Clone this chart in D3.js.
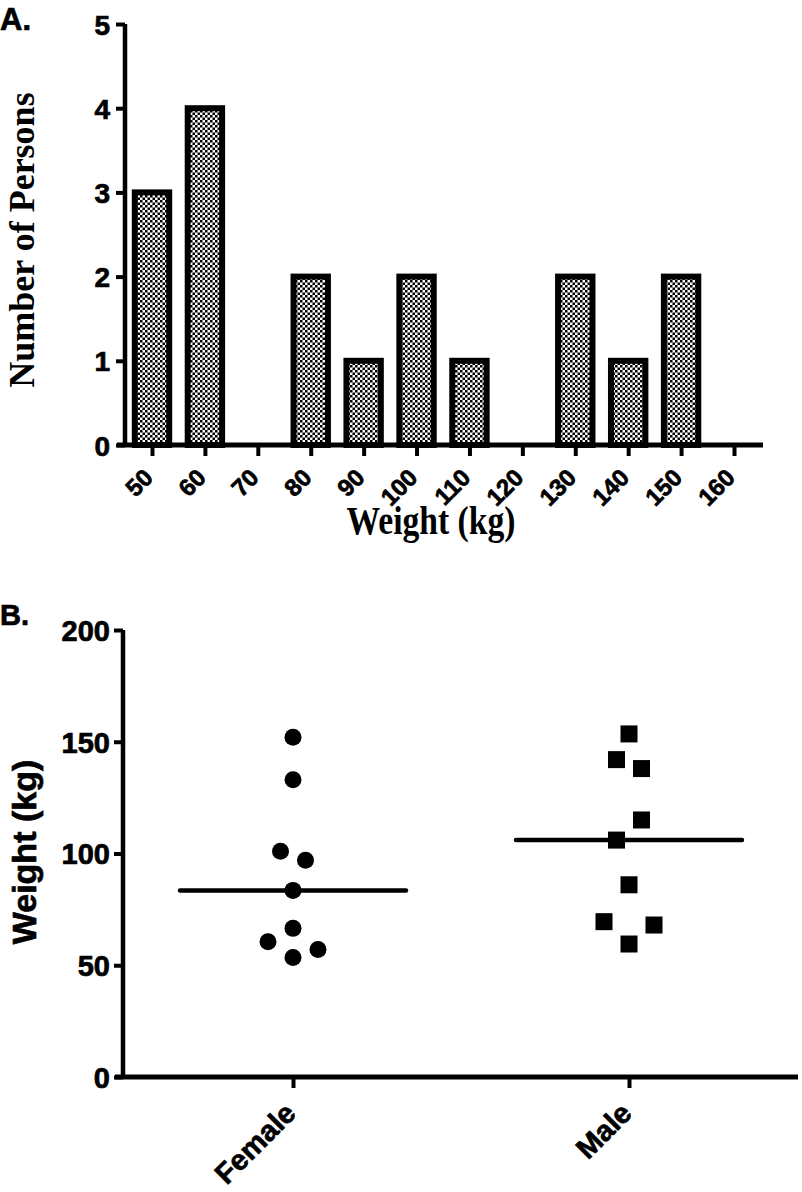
<!DOCTYPE html>
<html>
<head>
<meta charset="utf-8">
<script src="https://cdn.jsdelivr.net/npm/d3@7"></script>
<style>
  html, body { margin: 0; padding: 0; background: #fff; }
  svg { display: block; }
</style>
</head>
<body>
<script>
// ---------- Panel A data: histogram of weights ----------
const binLabels = [50, 60, 70, 80, 90, 100, 110, 120, 130, 140, 150, 160];
const binCounts = [3, 4, 0, 2, 1, 2, 1, 0, 2, 1, 2, 0];
const countTicks = [0, 1, 2, 3, 4, 5];

// ---------- Panel B data: weights by sex ----------
const groups = ["Female", "Male"];
const femaleWeights = [152, 133, 101, 97, 83.5, 66.5, 60.5, 57, 53.5];
const femaleSlots   = [0, 0, -0.5, 0.5, 0, 0, -1, 1, 0];
const maleWeights   = [153.5, 142, 138, 115, 106, 86, 69.5, 68, 59.5];
const maleSlots     = [0, -0.5, 0.5, 0.5, -0.5, 0, -1, 1, 0];
const weightTicks   = [0, 50, 100, 150, 200];

const W = 802, H = 1192;
const SANS = "'Liberation Sans', Arial, sans-serif";
const SERIF = "'Liberation Serif', 'Times New Roman', serif";

const svg = d3.select("body").append("svg").attr("width", W).attr("height", H);

function heavy(sel, size) {
  sel.attr("font-family", SANS).attr("font-weight", "bold").attr("font-size", size)
    .attr("fill", "#000").attr("stroke", "#000").attr("stroke-width", 0.7);
}

// pattern
const defs = svg.append("defs");
const pat = defs.append("pattern").attr("id", "checker")
  .attr("patternUnits", "userSpaceOnUse").attr("width", 5).attr("height", 5);
pat.append("rect").attr("width", 5).attr("height", 5).attr("fill", "#fff");
pat.append("rect").attr("x", 0).attr("y", 0).attr("width", 2.5).attr("height", 2.5).attr("fill", "#000");
pat.append("rect").attr("x", 2.5).attr("y", 2.5).attr("width", 2.5).attr("height", 2.5).attr("fill", "#000");

// ================= Panel A =================
const xA = d3.scaleLinear().domain([50, 160]).range([152, 734]);
const yA = d3.scaleLinear().domain([0, 5]).range([445, 24]);
const binStep = xA(60) - xA(50);
const barW = binStep * 0.65;

const gA = svg.append("g");

const barData = binLabels.map((b, i) => ({ bin: b, count: binCounts[i] })).filter(d => d.count > 0);
gA.selectAll("rect.bar").data(barData).join("rect")
  .attr("class", "bar")
  .attr("x", d => xA(d.bin) - barW / 2)
  .attr("width", barW)
  .attr("y", d => yA(d.count))
  .attr("height", d => yA(0) - yA(d.count))
  .attr("fill", "url(#checker)")
  .attr("stroke", "#000")
  .attr("stroke-width", 6);

// y axis A
const yAxisA = gA.append("g").attr("transform", "translate(125,0)")
  .call(d3.axisLeft(yA).tickValues(countTicks).tickSize(9).tickPadding(6).tickFormat(d3.format("d")));
yAxisA.select(".domain").attr("stroke-width", 4.5).attr("d", `M0,${yA(5)}V${yA(0)}`);
yAxisA.selectAll(".tick line").attr("stroke-width", 4);
yAxisA.selectAll(".tick text").call(heavy, 28).attr("dy", "0.36em");

// x axis A
const xAxisA = gA.append("g").attr("transform", `translate(0,${yA(0)})`)
  .call(d3.axisBottom(xA).tickValues(binLabels).tickSize(11).tickFormat(d3.format("d")));
xAxisA.select(".domain").attr("stroke-width", 5).attr("d", `M117,0H763`);
xAxisA.selectAll(".tick line").attr("stroke-width", 4);
xAxisA.selectAll(".tick text").call(heavy, 24)
  .attr("text-anchor", "end").attr("x", 0).attr("y", 0).attr("dy", 0)
  .attr("transform", "translate(2,34) rotate(-45)");

// titles A
svg.append("text").attr("x", 0).attr("y", 30).text("A.").call(heavy, 31);
svg.append("text").attr("transform", "translate(34,240) rotate(-90)")
  .attr("text-anchor", "middle").text("Number of Persons")
  .attr("font-family", SERIF).attr("font-weight", "bold").attr("font-size", 36);
svg.append("text").attr("transform", "translate(431,534) scale(0.82,1)")
  .attr("text-anchor", "middle").text("Weight (kg)")
  .attr("font-family", SERIF).attr("font-weight", "bold").attr("font-size", 41);

// ================= Panel B =================
const xB = d3.scalePoint().domain(groups).range([293, 629]);
const yB = d3.scaleLinear().domain([0, 200]).range([1077, 630]);
const slotW = 25;
const halfLine = 113;

const gB = svg.append("g");

const yAxisB = gB.append("g").attr("transform", "translate(123,0)")
  .call(d3.axisLeft(yB).tickValues(weightTicks).tickSize(9).tickPadding(4).tickFormat(d3.format("d")));
yAxisB.select(".domain").attr("stroke-width", 4.5).attr("d", `M0,${yB(200)}V${yB(0)}`);
yAxisB.selectAll(".tick line").attr("stroke-width", 4);
yAxisB.selectAll(".tick text").call(heavy, 29).attr("dy", "0.36em");

const xAxisB = gB.append("g").attr("transform", `translate(0,${yB(0)})`)
  .call(d3.axisBottom(xB).tickSize(11));
xAxisB.select(".domain").attr("stroke-width", 5).attr("d", `M115,0H798`);
xAxisB.selectAll(".tick line").attr("stroke-width", 4);
xAxisB.selectAll(".tick text").call(heavy, 29)
  .attr("text-anchor", "end").attr("x", 0).attr("y", 0).attr("dy", 0)
  .attr("transform", "translate(4,38) rotate(-45)");

// female points
const fData = femaleWeights.map((v, i) => ({ v, s: femaleSlots[i] }));
gB.selectAll("circle.f").data(fData).join("circle")
  .attr("class", "f")
  .attr("cx", d => xB("Female") + d.s * slotW)
  .attr("cy", d => yB(d.v))
  .attr("r", 8.5).attr("fill", "#000");

const mData = maleWeights.map((v, i) => ({ v, s: maleSlots[i] }));
const sq = 17;
gB.selectAll("rect.m").data(mData).join("rect")
  .attr("class", "m")
  .attr("x", d => xB("Male") + d.s * slotW - sq / 2)
  .attr("y", d => yB(d.v) - sq / 2)
  .attr("width", sq).attr("height", sq).attr("fill", "#000");

// median lines
const medians = [
  { g: "Female", v: d3.median(femaleWeights) },
  { g: "Male", v: d3.median(maleWeights) }
];
gB.selectAll("line.med").data(medians).join("line")
  .attr("class", "med")
  .attr("x1", d => xB(d.g) - halfLine).attr("x2", d => xB(d.g) + halfLine)
  .attr("y1", d => yB(d.v)).attr("y2", d => yB(d.v))
  .attr("stroke", "#000").attr("stroke-width", 4.5).attr("stroke-linecap", "round");

// titles B
svg.append("text").attr("x", 0).attr("y", 625).text("B.").call(heavy, 29);
svg.append("text").attr("transform", "translate(36,852) rotate(-90)")
  .attr("text-anchor", "middle").text("Weight (kg)").call(heavy, 34);
</script>
</body>
</html>
